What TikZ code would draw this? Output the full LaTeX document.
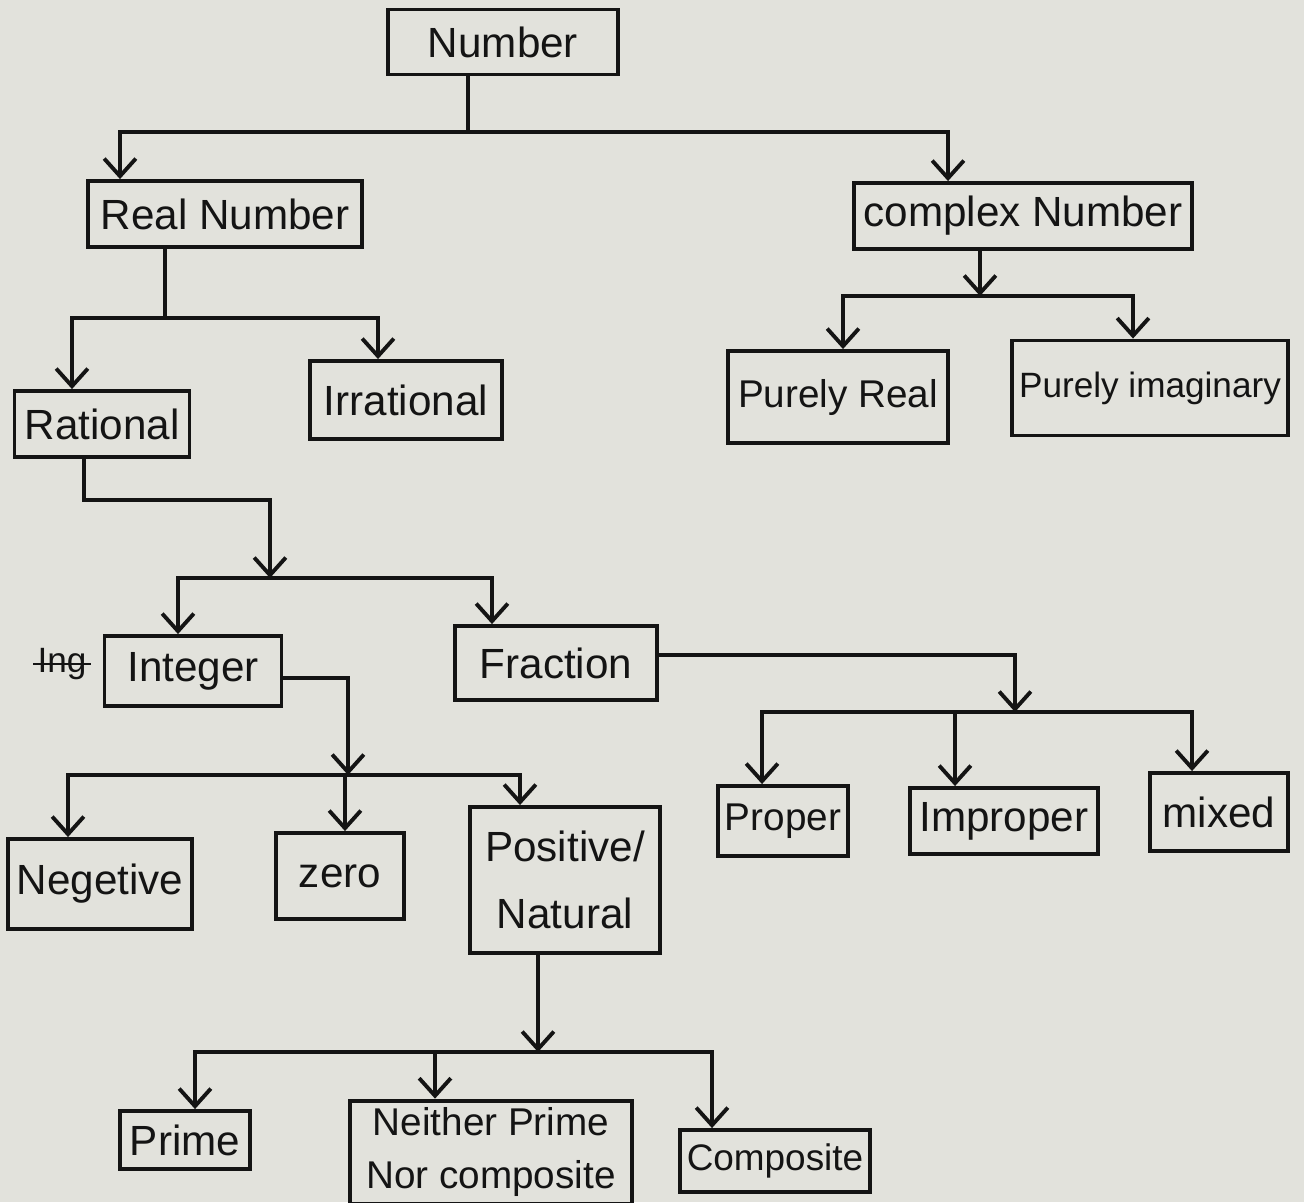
\documentclass[tikz,border=0pt]{standalone}
\usepackage{fontspec}
\setmainfont{Liberation Sans}
\usetikzlibrary{arrows.meta,calc}
\definecolor{paper}{RGB}{226,226,220}
\definecolor{ink}{RGB}{20,20,20}
\tikzset{
  box/.style={draw=ink, line width=1.1pt, rectangle, inner sep=2pt, align=center, text=ink, font=\fontsize{12}{15}\selectfont},
  arr/.style={draw=ink, line width=1.1pt, -{Straight Barb[length=5pt,width=9pt,line width=1.1pt]}},
  ln/.style={draw=ink, line width=1.1pt}
}
\begin{document}
\begin{tikzpicture}[x=0.01cm,y=-0.01cm]
\fill[paper] (0,0) rectangle (1304,1202);
\useasboundingbox (0,0) rectangle (1304,1202);

% nodes
\node[box, minimum width=2.30cm, minimum height=0.65cm] (num) at (503,42) {Number};
\node[box, minimum width=2.74cm, minimum height=0.66cm] (real) at (225,214) {Real Number};
\node[box, minimum width=3.37cm, minimum height=0.66cm] (cplx) at (1023,216) {complex Number};
\node[box, minimum width=1.75cm, minimum height=0.66cm] (rat) at (102,424) {Rational};
\node[box, minimum width=1.92cm, minimum height=0.78cm] (irr) at (406,400) {Irrational};
\node[box, minimum width=2.20cm, minimum height=0.92cm, font=\fontsize{11}{14}\selectfont] (preal) at (838,397) {Purely Real};
\node[box, minimum width=2.76cm, minimum height=0.95cm, font=\fontsize{10}{13}\selectfont] (pimag) at (1150,388) {Purely imaginary};
\node[box, minimum width=1.77cm, minimum height=0.70cm] (int) at (193,671) {Integer};
\node[box, minimum width=2.02cm, minimum height=0.74cm] (frac) at (556,663) {Fraction};
\node[box, minimum width=1.84cm, minimum height=0.90cm] (neg) at (100,884) {Negetive};
\node[box, minimum width=1.28cm, minimum height=0.86cm] (zero) at (340,876) {zero};
\node[box, minimum width=1.90cm, minimum height=1.46cm] (pos) at (565,880) {Positive/\\[4pt]Natural};
\node[box, minimum width=1.30cm, minimum height=0.70cm, font=\fontsize{11}{14}\selectfont] (prop) at (783,821) {Proper};
\node[box, minimum width=1.88cm, minimum height=0.66cm] (improp) at (1004,821) {Improper};
\node[box, minimum width=1.38cm, minimum height=0.78cm] (mixed) at (1219,812) {mixed};
\node[box, minimum width=1.30cm, minimum height=0.58cm] (prime) at (185,1140) {Prime};
\node[box, minimum width=2.82cm, minimum height=1.00cm, font=\fontsize{11}{15}\selectfont] (neither) at (491,1152) {Neither Prime\\Nor composite};
\node[box, minimum width=1.86cm, minimum height=0.62cm, font=\fontsize{10.5}{13}\selectfont] (comp) at (775,1161) {Composite};

% struck-out text
\node[text=ink, font=\fontsize{10}{12}\selectfont, inner sep=1pt] (ing) at (62,664) {Ing};
\draw[ln, line width=0.8pt] (ing.west) -- (ing.east);

% Number -> Real / Complex
\coordinate (b1) at (468,132);
\draw[ln] (num.south -| b1) -- (b1);
\draw[arr] (b1) -| ($(real.north)+(-105,0)$);
\draw[arr] (b1) -| ($(cplx.north)+(-75,0)$);

% Real -> Rational / Irrational
\coordinate (b2) at (165,318);
\draw[ln] (real.south -| b2) -- (b2);
\draw[arr] (b2) -| ($(rat.north)+(-30,0)$);
\draw[arr] (b2) -| ($(irr.north)+(-28,0)$);

% Complex -> Purely Real / Purely imaginary
\coordinate (b3) at (980,296);
\draw[arr] (cplx.south -| b3) -- (b3);
\draw[arr] (b3) -| ($(preal.north)+(5,0)$);
\draw[arr] (b3) -| ($(pimag.north)+(-17,0)$);

% Rational -> Integer / Fraction
\coordinate (r1) at (84,500);
\coordinate (b4) at (270,578);
\draw[arr] (rat.south -| r1) -- (r1) -| (b4);
\draw[arr] (b4) -| ($(int.north)+(-15,0)$);
\draw[arr] (b4) -| ($(frac.north)+(-64,0)$);

% Integer -> Negetive / zero / Positive
\coordinate (b5) at (348,775);
\draw[arr] ($(int.east)+(0,7)$) -| (b5);
\draw[arr] (b5) -| ($(neg.north)+(-32,0)$);
\draw[arr] (b5) -| ($(zero.north)+(5,0)$);
\draw[arr] (b5) -| ($(pos.north)+(-45,0)$);

% Fraction -> Proper / Improper / mixed
\coordinate (b6) at (1015,712);
\draw[arr] ($(frac.east)+(0,-8)$) -| (b6);
\draw[arr] (b6) -| ($(prop.north)+(-21,0)$);
\draw[arr] (b6) -| ($(improp.north)+(-49,0)$);
\draw[arr] (b6) -| ($(mixed.north)+(-27,0)$);

% Positive -> Prime / Neither / Composite
\coordinate (b7) at (538,1052);
\draw[arr] (pos.south -| b7) -- (b7);
\draw[arr] (b7) -| ($(prime.north)+(10,0)$);
\draw[arr] (b7) -| ($(neither.north)+(-56,0)$);
\draw[arr] (b7) -| ($(comp.north)+(-63,0)$);
\end{tikzpicture}
\end{document}
